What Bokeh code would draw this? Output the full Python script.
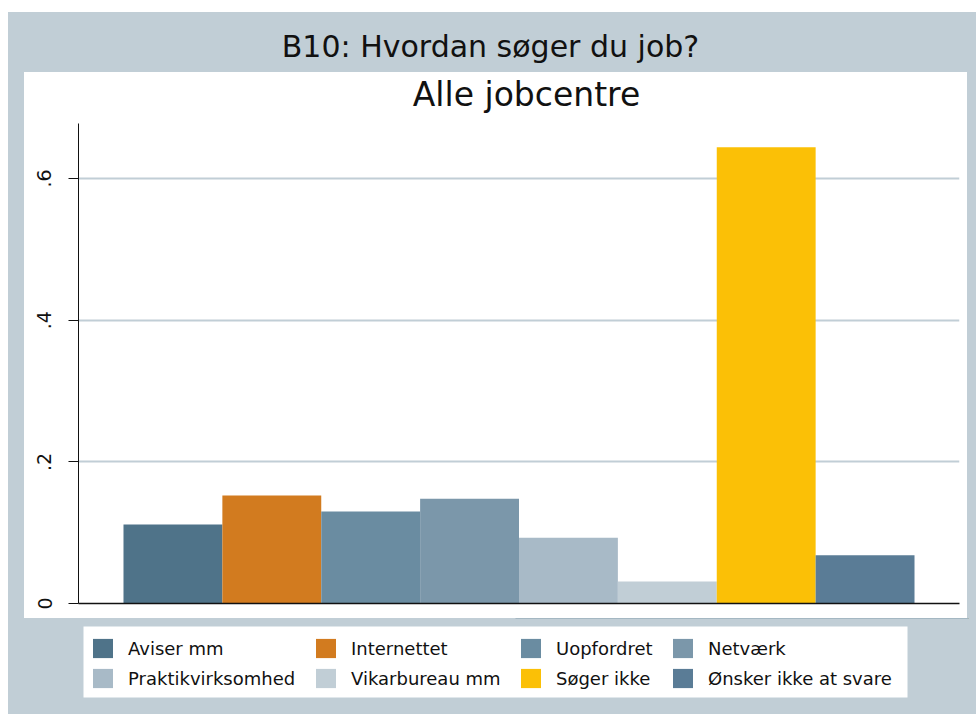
from bokeh.plotting import figure
from bokeh.models import (Range1d, FixedTicker, Legend, LegendItem,
                          ColumnDataSource, Label, BoxAnnotation)
from bokeh.layouts import column
from bokeh.embed import file_html
from bokeh.resources import INLINE

# ---- data ----
categories = ["Aviser mm", "Internettet", "Uopfordret", "Netværk",
              "Praktikvirksomhed", "Vikarbureau mm", "Søger ikke",
              "Ønsker ikke at svare"]
shares = [0.1115, 0.1525, 0.130, 0.148, 0.093, 0.031, 0.644, 0.068]
colors = ["#4f7389", "#d27b1f", "#6a8ca1", "#7b97aa", "#a8bac7",
          "#c1ced6", "#fbc006", "#5a7c96"]
tick_values = [0, 0.2, 0.4, 0.6]
tick_labels = ["0", ".2", ".4", ".6"]
main_title = "B10: Hvordan søger du job?"
sub_title = "Alle jobcentre"

GREY = "#c1ced6"
FONT = "DejaVu Sans"
INK = "#111111"


def strip(width, height, fill, margin=(0, 0, 0, 0), y_range=None):
    f = figure(width=width, height=height, toolbar_location=None,
               output_backend="svg", x_axis_location=None,
               y_axis_location=None, x_range=Range1d(0, 1),
               y_range=y_range or Range1d(0, 1),
               min_border_left=0, min_border_right=0, min_border_top=0,
               min_border_bottom=0, border_fill_color=fill,
               background_fill_color=fill, outline_line_color=None,
               styles={"background-color": fill})
    f.grid.visible = False
    f.margin = margin
    return f


# ---- title strip ----
tfig = strip(968, 60, GREY)
tfig.add_layout(Label(x=428, y=26, x_units="screen", y_units="screen",
                      text=main_title, text_align="center",
                      text_baseline="middle", text_font=FONT,
                      text_font_size="30px", text_color=INK))

# ---- subtitle strip (top of white plot region) ----
sfig = strip(943, 51, "white", margin=(0, 1, 0, 16))
sfig.add_layout(Label(x=448, y=29, x_units="screen", y_units="screen",
                      text=sub_title, text_align="center",
                      text_baseline="middle", text_font=FONT,
                      text_font_size="33px", text_color=INK))

# ---- main chart ----
xs = list(range(1, len(categories) + 1))
src = ColumnDataSource(dict(x=xs, top=shares, color=colors, cat=categories))

p = figure(width=943, height=495, toolbar_location=None, output_backend="svg",
           x_range=Range1d(0.045, 8.955), y_range=Range1d(0, 0.6777),
           min_border_left=54, min_border_right=8, min_border_top=0,
           min_border_bottom=15, border_fill_color="white",
           background_fill_color="white", outline_line_color=None,
           styles={"background-color": "white"})
p.margin = (0, 1, 0, 16)

p.vbar(x="x", top="top", width=1.0, bottom=0, color="color", line_color=None,
       source=src)

p.xgrid.visible = False
p.ygrid.ticker = FixedTicker(ticks=tick_values)
p.ygrid.grid_line_color = GREY
p.ygrid.grid_line_width = 2

p.xaxis.ticker = FixedTicker(ticks=[])
p.xaxis.major_tick_line_color = None
p.xaxis.minor_tick_line_color = None
p.xaxis.axis_line_color = INK
p.xaxis.axis_line_width = 1.5

p.yaxis.ticker = FixedTicker(ticks=tick_values)
p.yaxis.major_label_overrides = {v: l for v, l in zip(tick_values, tick_labels)}
p.yaxis.major_label_orientation = "vertical"
p.yaxis.major_label_text_font = FONT
p.yaxis.major_label_text_font_size = "19px"
p.yaxis.major_label_text_color = INK
p.yaxis.major_label_standoff = 17
p.yaxis.major_tick_out = 10
p.yaxis.major_tick_in = 0
p.yaxis.minor_tick_line_color = None
p.yaxis.axis_line_color = INK
p.yaxis.major_tick_line_color = INK

# ---- legend strip ----
lfig = strip(968, 96, GREY, y_range=Range1d(-2, -1))
lfig.add_layout(BoxAnnotation(left=21, right=845, bottom=17, top=88,
                              left_units="screen", right_units="screen",
                              bottom_units="screen", top_units="screen",
                              fill_color="white", fill_alpha=1,
                              line_color=None))
lr = lfig.vbar(x="x", top="top", width=1.0, color="color", line_color=None,
               source=src)

# legend laid out as 4 columns of 2 rows (row-major order as in the original)
legend_cols = 4
col_x = [28, 251, 456, 608]          # column offsets within the legend strip
for c in range(legend_cols):
    idx = [i for i in range(len(categories)) if i % legend_cols == c]
    items = [LegendItem(label=categories[i], renderers=[lr], index=i) for i in idx]
    leg = Legend(items=items, location=(col_x[c], 24), orientation="vertical",
                 background_fill_alpha=0, border_line_color=None,
                 label_text_font=FONT, label_text_font_size="18px",
                 label_text_color=INK, glyph_width=25, glyph_height=24,
                 label_height=24, label_standoff=13, spacing=6, padding=2,
                 margin=0)
    lfig.add_layout(leg, "center")

layout = column(tfig, sfig, p, lfig, spacing=0, margin=(12, 0, 0, 8),
                styles={"background-color": GREY})

open("out.html", "w").write(file_html(layout, INLINE))
